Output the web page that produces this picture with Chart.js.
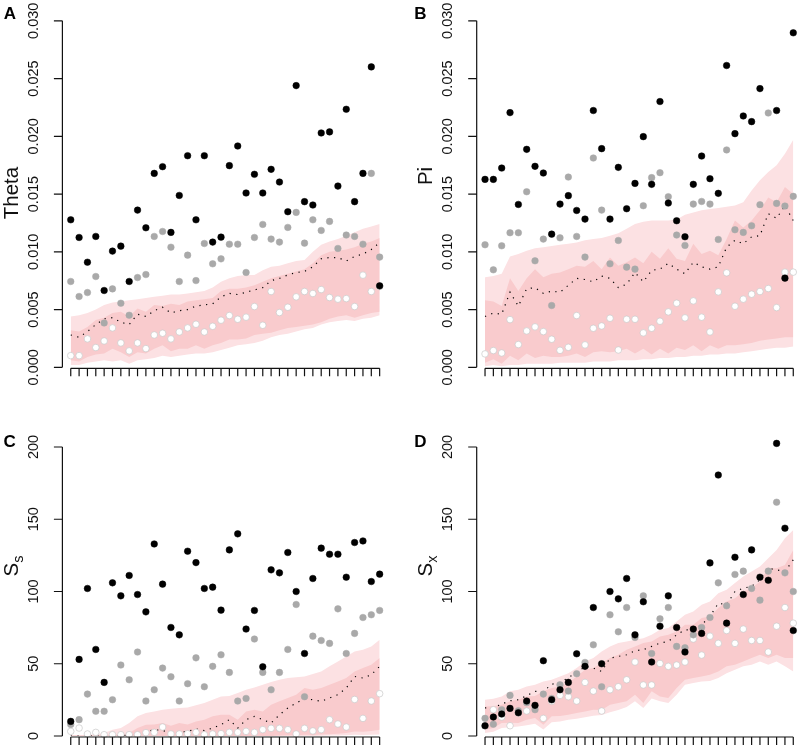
<!DOCTYPE html>
<html>
<head>
<meta charset="utf-8">
<script src="https://cdn.jsdelivr.net/npm/chart.js@4.4.0/dist/chart.umd.min.js"></script>
<style>
html,body{margin:0;padding:0;background:#fff;overflow:hidden;width:800px;height:750px;}
canvas{position:absolute;left:0;top:0;}
</style>
</head>
<body>
<canvas id="cA" width="820" height="750"></canvas>
<canvas id="cB" width="820" height="750"></canvas>
<canvas id="cC" width="820" height="750"></canvas>
<canvas id="cD" width="820" height="750"></canvas>
<script>
// ---------- categories (loci) ----------
const categories = [1,2,3,4,5,6,7,8,9,10,11,12,13,14,15,16,17,18,19,20,21,22,23,24,25,26,27,28,29,30,31,32,33,34,35,36,37,38];

// ---------- tick values / labels ----------
const diversityTicks = [0, 0.005, 0.010, 0.015, 0.020, 0.025, 0.030];
const diversityTickLabels = ['0.000','0.005','0.010','0.015','0.020','0.025','0.030'];
const countTicks = [0, 50, 100, 150, 200];
const countTickLabels = ['0','50','100','150','200'];

// ---------- Panel A : Theta ----------
const thetaBlack = [0.01277,0.01124,0.00910,0.01133,0.00665,0.01006,0.01049,0.00743,0.01361,0.01208,0.01679,0.01737,0.01168,0.01488,0.01832,0.01277,0.01832,0.01084,0.01127,0.01746,0.01916,0.01509,0.01671,0.01509,0.01714,0.01604,0.01347,0.02439,0.01434,0.01405,0.02029,0.02038,0.01569,0.02234,0.01434,0.01679,0.02601,0.00705];
const thetaGray = [0.00743,0.00613,0.00647,0.00786,0.00384,0.00679,0.00555,0.00451,0.00777,0.00803,0.01133,0.01176,0.01040,0.00743,0.00971,0.00751,0.01072,0.00896,0.00939,0.01066,0.01066,0.00821,0.01124,0.01237,0.01110,0.01084,0.01211,0.01341,0.01075,0.01277,0.01185,0.01263,0.01029,0.01145,0.01133,0.01066,0.01679,0.00954];
const thetaWhite = [0.00101,0.00101,0.00246,0.00171,0.00228,0.00341,0.00211,0.00142,0.00211,0.00162,0.00280,0.00295,0.00246,0.00306,0.00341,0.00373,0.00306,0.00355,0.00408,0.00448,0.00416,0.00434,0.00526,0.00364,0.00656,0.00474,0.00520,0.00610,0.00656,0.00639,0.00673,0.00604,0.00590,0.00595,0.00526,0.00798,0.00656,0.00700];
const thetaOuterHi = [0.0044,0.0045,0.0047,0.0050,0.0054,0.0056,0.0057,0.0058,0.0059,0.0060,0.0061,0.0062,0.0063,0.0063,0.0064,0.0065,0.0066,0.0069,0.0074,0.0077,0.0079,0.0080,0.0080,0.0084,0.0087,0.0088,0.0090,0.0092,0.0093,0.0100,0.0106,0.0109,0.0111,0.0114,0.0117,0.0120,0.0122,0.0124];
const thetaInnerHi = [0.0032,0.0031,0.0035,0.0041,0.0043,0.0047,0.0048,0.0044,0.0051,0.0048,0.0054,0.0053,0.0055,0.0054,0.0057,0.0058,0.0059,0.0060,0.0066,0.0068,0.0068,0.0069,0.0071,0.0074,0.0077,0.0079,0.0081,0.0083,0.0085,0.0090,0.0097,0.0100,0.0101,0.0102,0.0104,0.0107,0.0109,0.0112];
const thetaMedian = [0.0028,0.0026,0.0031,0.0037,0.0042,0.0043,0.0039,0.0037,0.0046,0.0044,0.0049,0.0052,0.0047,0.0049,0.0050,0.0053,0.0054,0.0055,0.0061,0.0064,0.0063,0.0065,0.0067,0.0069,0.0075,0.0077,0.0080,0.0082,0.0083,0.0087,0.0094,0.0095,0.0095,0.0092,0.0096,0.0098,0.0102,0.0108];
const thetaInnerLo = [0.0006,0.0005,0.0009,0.0011,0.0012,0.0016,0.0013,0.0009,0.0013,0.0012,0.0016,0.0019,0.0014,0.0016,0.0016,0.0019,0.0016,0.0019,0.0021,0.0024,0.0024,0.0025,0.0028,0.0029,0.0030,0.0032,0.0034,0.0035,0.0036,0.0037,0.0039,0.0042,0.0044,0.0045,0.0043,0.0045,0.0047,0.0048];
const thetaOuterLo = [0.0002,0.0002,0.0004,0.0005,0.0006,0.0005,0.0006,0.0003,0.0006,0.0007,0.0008,0.0010,0.0009,0.0010,0.0011,0.0012,0.0012,0.0013,0.0015,0.0017,0.0019,0.0020,0.0021,0.0023,0.0026,0.0028,0.0029,0.0031,0.0033,0.0034,0.0037,0.0039,0.0040,0.0041,0.0040,0.0042,0.0043,0.0045];

// ---------- Panel B : Pi ----------
const piBlack = [0.01627,0.01627,0.01725,0.02205,0.01410,0.01887,0.01740,0.01682,0.01153,0.01413,0.01486,0.01358,0.01283,0.02223,0.01893,0.01283,0.01731,0.01373,0.01592,0.01997,0.01584,0.02301,0.01422,0.01269,0.01130,0.01584,0.01829,0.01633,0.01506,0.02613,0.02023,0.02176,0.02127,0.02413,null,0.02223,0.00772,0.02896];
const piGray = [0.01061,0.00844,0.01052,0.01165,0.01165,0.01520,0.00922,0.01110,0.00535,0.01121,0.01647,0.01133,0.00954,0.01812,0.01361,0.00896,0.01098,0.00867,0.00850,0.01399,0.01642,0.01685,0.01477,0.01145,0.01055,0.01413,0.01436,0.01413,0.01107,0.01882,0.01191,0.01168,0.01225,0.01408,0.02202,0.01419,0.01396,0.01480];
const piWhite = [0.00116,0.00145,0.00124,0.00413,0.00197,0.00315,0.00350,0.00309,0.00243,0.00147,0.00173,0.00448,0.00194,0.00338,0.00358,0.00425,0.00150,0.00416,0.00416,0.00298,0.00338,0.00399,0.00480,0.00555,0.00428,0.00575,0.00434,0.00306,0.00653,0.00818,0.00529,0.00590,0.00633,0.00656,0.00682,0.00517,0.00824,0.00824];
const piOuterHi = [0.0078,0.0079,0.0081,0.0096,0.0098,0.0101,0.0103,0.0104,0.0105,0.0106,0.0107,0.0108,0.0110,0.0111,0.0112,0.0114,0.0116,0.0120,0.0124,0.0126,0.0127,0.0127,0.0127,0.0128,0.0132,0.0134,0.0136,0.0137,0.0138,0.0139,0.0140,0.0143,0.0153,0.0162,0.0169,0.0175,0.0185,0.0197];
const piInnerHi = [0.0058,0.0057,0.0053,0.0077,0.0066,0.0077,0.0085,0.0078,0.0081,0.0082,0.0085,0.0088,0.0087,0.0092,0.0085,0.0095,0.0088,0.0091,0.0095,0.0090,0.0100,0.0094,0.0103,0.0094,0.0092,0.0107,0.0098,0.0101,0.0097,0.0111,0.0127,0.0121,0.0127,0.0136,0.0147,0.0143,0.0156,0.0150];
const piMedian = [0.0044,0.0047,0.0046,0.0065,0.0053,0.0068,0.0069,0.0064,0.0066,0.0065,0.0071,0.0077,0.0076,0.0074,0.0079,0.0077,0.0069,0.0072,0.0082,0.0074,0.0084,0.0085,0.0090,0.0085,0.0081,0.0091,0.0087,0.0085,0.0087,0.0104,0.0110,0.0107,0.0113,0.0114,0.0133,0.0129,0.0140,0.0127];
const piInnerLo = [0.0004,0.0007,0.0003,0.0010,0.0006,0.0012,0.0008,0.0010,0.0009,0.0009,0.0010,0.0012,0.0009,0.0013,0.0014,0.0013,0.0014,0.0016,0.0012,0.0016,0.0011,0.0016,0.0012,0.0017,0.0015,0.0019,0.0014,0.0019,0.0016,0.0019,0.0019,0.0020,0.0021,0.0023,0.0024,0.0025,0.0026,0.0026];
const piOuterLo = [0.0001,0.0002,0.0001,0.0002,0.0002,0.0003,0.0003,0.0003,0.0003,0.0004,0.0004,0.0004,0.0004,0.0005,0.0005,0.0005,0.0006,0.0006,0.0006,0.0007,0.0007,0.0008,0.0008,0.0009,0.0009,0.0010,0.0010,0.0011,0.0011,0.0012,0.0012,0.0013,0.0014,0.0015,0.0016,0.0017,0.0017,0.0018];

// ---------- Panel C : S_s ----------
const ssBlack = [10.1,53.0,102.1,59.9,37.1,106.0,97.0,111.1,97.9,85.9,132.9,105.1,75.1,70.0,127.9,120.0,102.1,103.0,87.1,128.8,139.9,74.0,86.9,47.9,115.0,112.9,127.0,100.0,57.1,109.0,130.0,125.8,125.8,109.9,133.9,135.0,106.9,112.0];
const ssGray = [8.0,11.3,29.0,17.1,17.1,25.1,49.1,38.9,58.1,24.2,32.0,47.0,41.0,24.2,36.2,54.1,34.1,48.2,56.2,44.0,24.2,26.0,67.1,44.0,32.0,44.0,59.9,91.0,27.2,69.1,66.1,64.1,88.0,57.1,71.0,82.0,83.9,86.9];
const ssWhite = [3.2,5.5,1.4,2.5,0.9,0.9,0.9,0.9,0.9,2.3,2.5,6.2,1.4,1.4,1.6,2.5,0.9,1.4,1.6,2.5,2.5,3.2,2.5,4.4,5.3,5.3,4.4,1.4,5.3,3.5,4.4,11.3,8.3,6.2,25.3,12.2,24.2,29.3];
const ssOuterHi = [0.5,0.5,0.8,1.2,2.0,4.4,5.5,9.0,13.6,15.9,17.0,18.2,18.9,19.4,19.8,21.2,22.8,25.1,27.4,27.6,29.7,32.0,33.6,35.5,37.3,38.9,40.1,40.6,41.2,42.9,44.7,48.2,51.6,55.1,58.5,59.7,62.0,66.6];
const ssInnerHi = [0.3,0.3,0.4,0.5,0.6,0.8,1.0,2.0,5.5,7.8,7.9,9.0,7.1,9.0,8.0,10.1,11.3,13.6,14.7,14.7,11.3,17.0,18.2,17.0,21.7,24.0,26.3,28.6,33.2,32.0,33.2,35.5,37.8,40.1,44.7,47.0,49.3,53.9];
const ssMedian = [0,0,0,0,0,0.2,0.3,0.5,1.0,2.8,4.4,3.7,2.5,2.5,3.2,4.8,3.7,5.5,7.8,11.3,5.5,11.3,13.6,11.3,9.0,14.7,19.4,22.8,25.8,25.1,24.0,26.3,28.6,33.2,41.2,40.1,42.4,48.2];
const ssInnerLo = [0,0,0,0,0,0,0,0,0,0,0,0,0,0,0,0,0,0,0,0,0,0,0,0,0,0.3,0.5,0.4,0.8,0.7,1.0,1.2,1.5,2.0,3.2,3.0,3.5,4.4];
const ssOuterLo = [0,0,0,0,0,0,0,0,0,0,0,0,0,0,0,0,0,0,0,0,0,0,0,0,0,0,0,0,0,0,0.2,0.3,0.4,0.5,0.8,0.7,0.9,1.0];

// ---------- Panel D : S_x ----------
const sxBlack = [7.1,13.1,15.2,19.1,16.1,24.2,21.2,52.1,25.1,32.0,37.1,56.9,48.2,88.9,50.0,100.0,94.9,109.0,70.0,92.9,51.2,76.0,97.0,75.1,58.1,74.0,71.0,119.8,180.6,78.1,123.7,97.9,128.8,109.9,107.8,202.5,143.8,73.0];
const sxGray = [12.2,8.1,18.2,28.1,17.5,23.0,18.2,29.0,26.0,35.5,31.1,43.1,50.9,63.1,34.1,83.9,72.1,88.9,68.2,97.0,57.1,81.1,88.9,62.0,61.1,70.0,75.1,82.0,106.0,90.1,111.8,114.1,102.1,94.0,114.1,161.8,112.9,100.0];
const sxWhite = [7.0,18.2,13.1,7.1,16.0,17.3,20.0,12.2,24.0,28.1,27.2,24.2,37.1,31.1,17.3,32.0,34.1,38.9,51.2,35.3,35.3,50.2,48.2,49.1,51.2,67.1,56.0,69.1,64.1,73.0,64.1,74.0,66.1,66.1,58.1,76.0,88.9,78.1];
const sxOuterHi = [25.1,25.8,27.4,30.9,32.0,34.3,35.5,37.8,38.9,41.2,43.5,47.0,51.6,53.9,58.5,62.0,64.3,65.4,66.6,67.7,70.0,73.5,74.7,79.3,83.9,86.2,90.8,93.1,98.8,101.2,105.8,110.4,113.8,117.3,123.0,128.8,136.9,142.6];
const sxInnerHi = [20.5,20.6,21.7,24.0,25.1,27.4,27.6,30.9,33.2,34.3,36.6,41.2,45.9,47.0,50.5,53.9,56.2,59.7,62.0,64.3,65.4,68.9,70.0,72.4,77.0,77.0,81.6,82.7,88.5,93.1,95.4,100.0,102.3,106.9,116.1,116.1,118.4,128.8];
const sxMedian = [19.4,19.6,22.1,24.4,25.1,27.9,30.9,30.7,35.9,36.6,40.6,43.5,48.2,47.0,44.7,53.9,55.1,56.2,59.0,59.7,62.0,64.3,65.4,70.0,73.5,73.3,77.0,82.7,91.9,90.8,100.0,102.3,103.5,108.1,116.1,115.0,113.8,121.9];
const sxInnerLo = [4.4,5.5,9.0,9.2,9.0,11.3,12.4,7.8,13.6,13.8,14.7,15.9,17.0,18.2,18.0,21.7,22.8,24.0,28.6,22.8,30.9,27.4,26.3,33.2,38.9,40.1,41.2,42.4,44.7,48.2,49.3,51.6,53.9,56.2,53.9,56.2,53.9,53.9];
const sxOuterLo = [2.0,3.0,5.5,6.0,6.5,7.5,8.5,4.5,9.5,10.0,11.3,12.0,13.0,14.0,14.5,16.5,18.0,20.0,24.0,19.4,26.0,24.0,22.8,28.6,35.5,36.6,37.8,38.0,40.1,43.5,45.9,48.2,49.3,51.6,49.3,51.6,48.2,44.7];

// ---------- styling ----------
const FONT = '"Liberation Sans", Arial, Helvetica, sans-serif';
const LIGHT_PINK = 'rgb(252,225,227)';
const DARK_PINK = 'rgb(249,203,205)';
Chart.defaults.font.family = FONT;

const rAxes = {
  id: 'rAxes',
  afterDraw(chart) {
    const p = chart.options.plugins.rAxes;
    const ctx = chart.ctx, a = chart.chartArea;
    const xs = chart.scales.x, ys = chart.scales.y;
    ctx.save();
    ctx.strokeStyle = '#111';
    ctx.fillStyle = '#111';
    ctx.lineWidth = 1.2;
    // x axis: line from first to last tick, outward ticks
    const xb = a.bottom + 1;
    const xFirst = xs.getPixelForValue(categories[0]);
    const xLast = xs.getPixelForValue(categories[categories.length - 1]);
    ctx.beginPath();
    ctx.moveTo(xFirst, xb); ctx.lineTo(xLast, xb);
    categories.forEach(c => {
      const x = xs.getPixelForValue(c);
      ctx.moveTo(x, xb); ctx.lineTo(x, xb + 8);
    });
    ctx.stroke();
    // y axis
    const yt = p.ticks;
    ctx.beginPath();
    ctx.moveTo(a.left, ys.getPixelForValue(yt[0]));
    ctx.lineTo(a.left, ys.getPixelForValue(yt[yt.length - 1]));
    yt.forEach(v => {
      const y = ys.getPixelForValue(v);
      ctx.moveTo(a.left, y); ctx.lineTo(a.left - 8.5, y);
    });
    ctx.stroke();
    // tick labels (rotated, reading upward)
    ctx.font = '14.5px ' + FONT;
    ctx.textAlign = 'center';
    ctx.textBaseline = 'alphabetic';
    yt.forEach((v, k) => {
      const y = ys.getPixelForValue(v);
      ctx.save();
      ctx.translate(a.left - 24.3, y);
      ctx.rotate(-Math.PI / 2);
      ctx.fillText(p.tickLabels[k], 0, 0);
      ctx.restore();
    });
    // axis title with optional subscript
    ctx.save();
    ctx.translate(a.left - 44.5, p.titleY);
    ctx.rotate(-Math.PI / 2);
    ctx.textAlign = 'left';
    ctx.font = '20.5px ' + FONT;
    const w1 = ctx.measureText(p.title).width;
    let w2 = 0;
    if (p.sub) { ctx.font = '14.5px ' + FONT; w2 = ctx.measureText(p.sub).width; }
    const start = -(w1 + w2) / 2;
    ctx.font = '20.5px ' + FONT;
    ctx.fillText(p.title, start, 0);
    if (p.sub) { ctx.font = '14.5px ' + FONT; ctx.fillText(p.sub, start + w1, 5); }
    ctx.restore();
    // panel letter
    ctx.font = 'bold 17px ' + FONT;
    ctx.textAlign = 'center';
    ctx.fillStyle = '#000';
    ctx.fillText(p.letter, p.letterX, p.letterY);
    ctx.restore();
  }
};

function makePanel(id, area, series, axis) {
  const W = 820, H = 750;
  const pts = arr => arr.map((v, i) => ({ x: categories[i], y: v }));
  const band = (arr, fill, color, order) => ({
    type: 'line', data: pts(arr), fill: fill, backgroundColor: color,
    borderColor: 'rgba(0,0,0,0)', borderWidth: 0, pointRadius: 0, tension: 0, order: order
  });
  const dots = (arr, bg, border, bw, order) => ({
    type: 'scatter', data: pts(arr), showLine: false, clip: false,
    pointRadius: 3.3, pointBackgroundColor: bg, pointBorderColor: border,
    pointBorderWidth: bw, order: order
  });
  new Chart(document.getElementById(id), {
    type: 'scatter',
    data: {
      datasets: [
        band(series.outerLo, false, 'rgba(0,0,0,0)', 7),
        band(series.outerHi, '-1', LIGHT_PINK, 6),
        band(series.innerLo, false, 'rgba(0,0,0,0)', 5),
        band(series.innerHi, '-1', DARK_PINK, 4),
        { type: 'line', data: pts(series.median), fill: false, borderColor: '#000',
          borderWidth: 1.2, borderDash: [1.2, 5.5], pointRadius: 0, tension: 0, order: 3 },
        dots(series.white, '#ffffff', '#c8c8c8', 0.7, 2),
        dots(series.gray, '#a9a9a9', '#a9a9a9', 0.5, 1),
        dots(series.black, '#000000', '#000000', 0.5, 0)
      ]
    },
    options: {
      responsive: false,
      animation: false,
      events: [],
      layout: { padding: { left: area.left, right: W - area.right, top: area.top, bottom: H - area.bottom } },
      scales: {
        x: { type: 'linear', min: 0, max: 39, display: false },
        y: { type: 'linear', min: axis.ticks[0], max: axis.ticks[axis.ticks.length - 1], display: false }
      },
      plugins: {
        legend: { display: false },
        tooltip: { enabled: false },
        rAxes: axis
      }
    },
    plugins: [rAxes]
  });
}

makePanel('cA', { left: 62.4, right: 388, top: 20.8, bottom: 367.3 },
  { black: thetaBlack, gray: thetaGray, white: thetaWhite, outerHi: thetaOuterHi, innerHi: thetaInnerHi,
    median: thetaMedian, innerLo: thetaInnerLo, outerLo: thetaOuterLo },
  { ticks: diversityTicks, tickLabels: diversityTickLabels, title: 'Theta', sub: '', titleY: 193,
    letter: 'A', letterX: 10, letterY: 19.3 });

makePanel('cB', { left: 476.7, right: 801.6, top: 20.8, bottom: 367.3 },
  { black: piBlack, gray: piGray, white: piWhite, outerHi: piOuterHi, innerHi: piInnerHi,
    median: piMedian, innerLo: piInnerLo, outerLo: piOuterLo },
  { ticks: diversityTicks, tickLabels: diversityTickLabels, title: 'Pi', sub: '', titleY: 176,
    letter: 'B', letterX: 420.3, letterY: 18.5 });

makePanel('cC', { left: 62.4, right: 388, top: 447, bottom: 736 },
  { black: ssBlack, gray: ssGray, white: ssWhite, outerHi: ssOuterHi, innerHi: ssInnerHi,
    median: ssMedian, innerLo: ssInnerLo, outerLo: ssOuterLo },
  { ticks: countTicks, tickLabels: countTickLabels, title: 'S', sub: 's', titleY: 566,
    letter: 'C', letterX: 9.7, letterY: 446.5 });

makePanel('cD', { left: 476.7, right: 801.6, top: 447, bottom: 736 },
  { black: sxBlack, gray: sxGray, white: sxWhite, outerHi: sxOuterHi, innerHi: sxInnerHi,
    median: sxMedian, innerLo: sxInnerLo, outerLo: sxOuterLo },
  { ticks: countTicks, tickLabels: countTickLabels, title: 'S', sub: 'x', titleY: 566,
    letter: 'D', letterX: 420.3, letterY: 446.5 });
</script>
</body>
</html>
